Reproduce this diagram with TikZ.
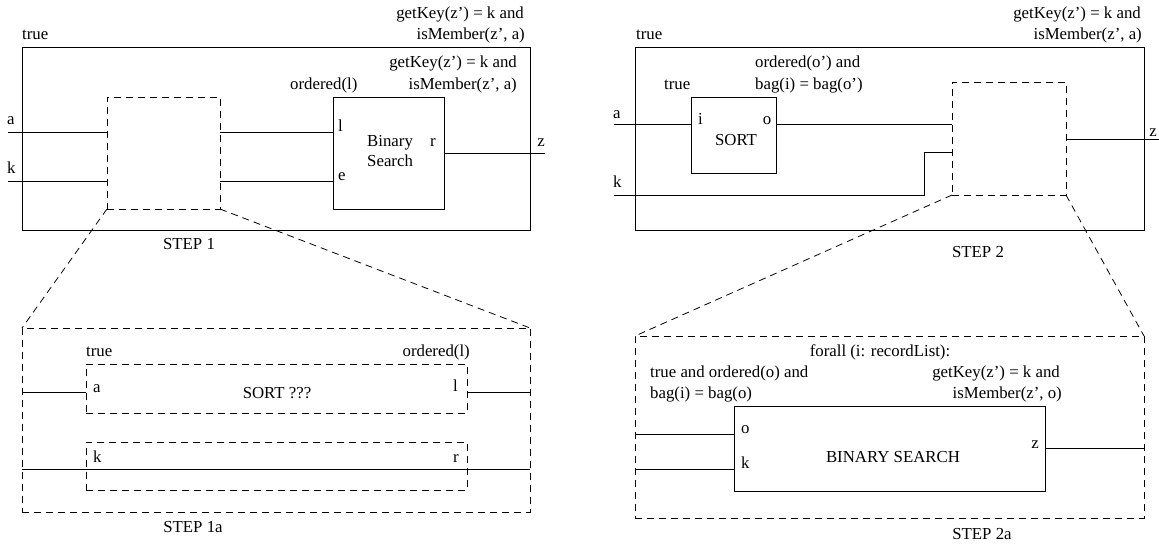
\documentclass[tikz,border=0pt]{standalone}
\usepackage{fontspec}
\setmainfont{Liberation Serif}
\tikzset{
blk/.style={draw, line width=0.9pt, inner sep=0pt, outer sep=0pt},
hole/.style={blk, line width=0.8pt, dash pattern=on 7pt off 5pt},
wire/.style={line width=0.9pt},
zoomln/.style={line width=0.8pt, dash pattern=on 7pt off 5pt},
lbl/.style={inner sep=0pt, text height=11.5pt, text depth=3.5pt}
}

\begin{document}
\begin{tikzpicture}[x=1pt, y=-1pt, font=\fontsize{16.8pt}{20pt}\selectfont]
	\useasboundingbox (0,0) rectangle (1159,546);

	% STEP 1
	\node[blk, minimum width=508pt, minimum height=183pt] (out1) at (276,138.5) {};
	\node[hole, minimum width=113pt, minimum height=112pt] (hole1) at (163.5,153) {};
	\node[blk, minimum width=111pt, minimum height=112pt] (bs1) at (388.5,153) {};
	\coordinate (a1) at (8,132);
	\coordinate (k1) at (8,181);
	\coordinate (z1) at (545,153);
	\draw[wire] (a1) -- (a1 -| hole1.west);
	\draw[wire] (k1) -- (k1 -| hole1.west);
	\draw[wire] (a1 -| hole1.east) -- (a1 -| bs1.west);
	\draw[wire] (k1 -| hole1.east) -- (k1 -| bs1.west);
	\draw[wire] (z1 -| bs1.east) -- (z1);
	\node[lbl, anchor=west] (pre1) at (22,35) {true};
	\node[lbl, anchor=east] (post1a) at (524,15) {getKey(z') = k and};
	\node[lbl, anchor=east] (post1b) at (525,35) {isMember(z', a)};
	\node[lbl, anchor=east] (bspost1a) at (517,63) {getKey(z') = k and};
	\node[lbl, anchor=east] (bspost1b) at (517,85) {isMember(z', a)};
	\node[lbl, anchor=west] (bspre1) at (290,85) {ordered(l)};
	\node[lbl, anchor=west] (la1) at (7,120) {a};
	\node[lbl, anchor=west] (lk1) at (7,169) {k};
	\node[lbl, anchor=west] (ll1) at (338,127) {l};
	\node[lbl, anchor=west] (le1) at (338,176) {e};
	\node[lbl, anchor=west] (bsn1a) at (367,142) {Binary};
	\node[lbl, anchor=west] (bsn1b) at (367,162) {Search};
	\node[lbl] (lr1) at (433,142) {r};
	\node[lbl] (lz1) at (541,142) {z};
	\node[lbl] (cap1) at (189,245) {STEP 1};

	% STEP 1a
	\node[hole, minimum width=508pt, minimum height=184pt] (big1) at (276,420) {};
	\node[hole, minimum width=381pt, minimum height=49pt] (sort1) at (276.5,388.5) {};
	\node[hole, minimum width=381pt, minimum height=48pt] (pass1) at (276.5,466) {};
	\draw[zoomln] (hole1.south west) -- (big1.north west);
	\draw[zoomln] (hole1.south east) -- (big1.north east);
	\coordinate (a1a) at (22,392);
	\coordinate (k1a) at (22,469);
	\draw[wire] (a1a) -- (a1a -| sort1.west);
	\draw[wire] (a1a -| sort1.east) -- (a1a -| big1.east);
	\draw[wire] (k1a) -- (k1a -| big1.east);
	\node[lbl, anchor=west] (pre1a) at (86,352) {true};
	\node[lbl, anchor=east] (post1c) at (470,352) {ordered(l)};
	\node[lbl, anchor=west] (la1a) at (93,388) {a};
	\node[lbl, anchor=east] (ll1a) at (458,387) {l};
	\node[lbl] (sortn1) at (277,394) {SORT ???};
	\node[lbl, anchor=west] (lk1a) at (93,458) {k};
	\node[lbl, anchor=east] (lr1a) at (459,458) {r};
	\node[lbl] (cap1a) at (193,528) {STEP 1a};

	% STEP 2
	\node[blk, minimum width=509pt, minimum height=183pt] (out2) at (889.5,138.5) {};
	\node[blk, minimum width=85pt, minimum height=76pt] (sort2) at (733.5,135) {};
	\node[hole, minimum width=114pt, minimum height=113pt] (hole2) at (1009,138.5) {};
	\coordinate (a2) at (614,124);
	\coordinate (k2) at (614,195);
	\coordinate (kb2) at (924,152);
	\coordinate (z2) at (1159,139);
	\draw[wire] (a2) -- (sort2.west |- a2);
	\draw[wire] (sort2.east |- a2) -- (hole2.west |- a2);
	\draw[wire] (k2) -- (kb2 |- k2) -- (kb2) -- (hole2.west |- kb2);
	\draw[wire] (hole2.east |- z2) -- (z2);
	\node[lbl, anchor=west] (pre2) at (636,35) {true};
	\node[lbl, anchor=east] (post2a) at (1141,15) {getKey(z') = k and};
	\node[lbl, anchor=east] (post2b) at (1142,35) {isMember(z', a)};
	\node[lbl, anchor=west] (spost2a) at (755,63) {ordered(o') and};
	\node[lbl, anchor=west] (spost2b) at (755,85) {bag(i) = bag(o')};
	\node[lbl, anchor=west] (spre2) at (664,85) {true};
	\node[lbl, anchor=west] (la2) at (613,114) {a};
	\node[lbl, anchor=west] (lk2) at (613,183) {k};
	\node[lbl, anchor=west] (li2) at (698,120) {i};
	\node[lbl] (lo2) at (767,120) {o};
	\node[lbl] (sortn2) at (736,141) {SORT};
	\node[lbl] (lz2) at (1153,132) {z};
	\node[lbl] (cap2) at (978,253) {STEP 2};

	% STEP 2a
	\node[hole, minimum width=509pt, minimum height=182pt] (big2) at (889.5,427) {};
	\node[blk, minimum width=311pt, minimum height=85pt] (bs2) at (889.5,448.5) {};
	\draw[zoomln] (hole2.south west) -- (big2.north west);
	\draw[zoomln] (hole2.south east) -- (big2.north east);
	\coordinate (o2a) at (635,434);
	\coordinate (k2a) at (635,469);
	\coordinate (z2a) at (1144,448);
	\draw[wire] (o2a) -- (bs2.west |- o2a);
	\draw[wire] (k2a) -- (bs2.west |- k2a);
	\draw[wire] (bs2.east |- z2a) -- (z2a);
	\node[lbl] (fa2) at (880,352) {forall (i: recordList):};
	\node[lbl, anchor=west] (pre2a) at (650,373) {true and ordered(o) and};
	\node[lbl, anchor=west] (pre2b) at (650,394) {bag(i) = bag(o)};
	\node[lbl, anchor=east] (post2c) at (1060,373) {getKey(z') = k and};
	\node[lbl, anchor=east] (post2d) at (1062,394) {isMember(z', o)};
	\node[lbl, anchor=west] (lo2a) at (741,429) {o};
	\node[lbl, anchor=west] (lk2a) at (741,464) {k};
	\node[lbl, anchor=east] (lz2a) at (1039,444) {z};
	\node[lbl] (bsn2) at (893,458) {BINARY SEARCH};
	\node[lbl] (cap2a) at (982,535) {STEP 2a};
\end{tikzpicture}
\end{document}
